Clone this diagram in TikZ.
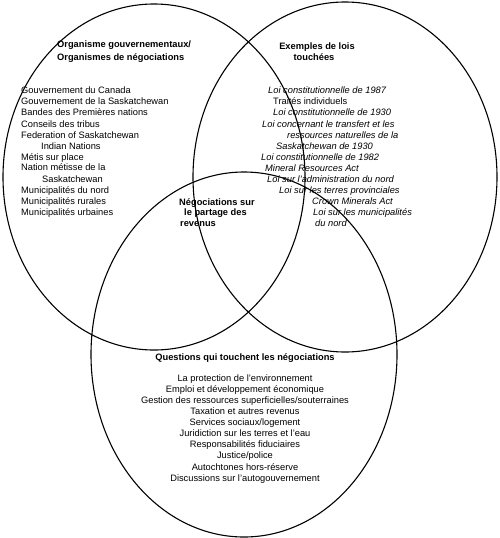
\documentclass[tikz,border=0pt]{standalone}
\usepackage{fontspec}
\setmainfont{Liberation Sans}
\begin{document}
\begin{tikzpicture}[x=1pt,y=-1pt,
  ring/.style={draw=black,line width=1.1pt},
  txt/.style={inner sep=0pt,font=\fontsize{9.3}{11}\selectfont,anchor=base west},
  head/.style={txt,font=\fontsize{9.3}{11}\selectfont\bfseries},
  ital/.style={txt,font=\fontsize{9.3}{11}\selectfont\itshape},
  ctr/.style={txt,anchor=base}]
\useasboundingbox[fill=white] (0,0) rectangle (500,538);
% ellipses
\draw[ring] (154,177) ellipse [x radius=151, y radius=173];
\draw[ring] (345,177) ellipse [x radius=152, y radius=175];
\draw[ring] (244,354.5) ellipse [x radius=153, y radius=182.5];
% left circle
\node[head] (lh1) at (57,47.5) {Organisme gouvernementaux/};
\node[head] (lh2) at (57,60.5) {Organismes de négociations};
\node[txt] (l1) at (21,93.5) {Gouvernement du Canada};
\node[txt] (l2) at (21,104.5) {Gouvernement de la Saskatchewan};
\node[txt] (l3) at (21,115.5) {Bandes des Premières nations};
\node[txt] (l4) at (21,127.5) {Conseils des tribus};
\node[txt] (l5) at (21,138.5) {Federation of Saskatchewan};
\node[txt] (l6) at (41,149.5) {Indian Nations};
\node[txt] (l7) at (21,160.5) {Métis sur place};
\node[txt] (l8) at (21,170.5) {Nation métisse de la};
\node[txt] (l9) at (42,182.5) {Saskatchewan};
\node[txt] (l10) at (21,193.5) {Municipalités du nord};
\node[txt] (l11) at (21,204.5) {Municipalités rurales};
\node[txt] (l12) at (21,215.5) {Municipalités urbaines};
% right circle
\node[head,anchor=base] (rh1) at (317,49.5) {Exemples de lois};
\node[head,anchor=base] (rh2) at (314,60.5) {touchées};
\node[ital] (r1) at (268,93.5) {Loi constitutionnelle de 1987};
\node[txt] (r2) at (273,104.5) {Traités individuels};
\node[ital] (r3) at (273,115.5) {Loi constitutionnelle de 1930};
\node[ital] (r4) at (262,127.5) {Loi concernant le transfert et les};
\node[ital] (r5) at (287,138.5) {ressources naturelles de la};
\node[ital] (r6) at (276,149.5) {Saskatchewan de 1930};
\node[ital] (r7) at (261,160.5) {Loi constitutionnelle de 1982};
\node[ital] (r8) at (265,171.5) {Mineral Resources Act};
\node[ital] (r9) at (267,182.5) {Loi sur l’administration du nord};
\node[ital] (r10) at (279,193.5) {Loi sur les terres provinciales};
\node[ital] (r11) at (312,204.5) {Crown Minerals Act};
\node[ital] (r12) at (313,215.5) {Loi sur les municipalités};
\node[ital] (r13) at (315,226.5) {du nord};
% centre
\node[head] (c1) at (179,205.5) {Négociations sur};
\node[head] (c2) at (184,215.5) {le partage des};
\node[head] (c3) at (180,226.5) {revenus};
% bottom circle
\node[head,anchor=base] (bh) at (245,360.5) {Questions qui touchent les négociations};
\node[ctr] (b1) at (245,381.5) {La protection de l’environnement};
\node[ctr] (b2) at (245,392.5) {Emploi et développement économique};
\node[ctr] (b3) at (245,403.5) {Gestion des ressources superficielles/souterraines};
\node[ctr] (b4) at (245,414.5) {Taxation et autres revenus};
\node[ctr] (b5) at (245,425.5) {Services sociaux/logement};
\node[ctr] (b6) at (245,436.5) {Juridiction sur les terres et l’eau};
\node[ctr] (b7) at (245,447.5) {Responsabilités fiduciaires};
\node[ctr] (b8) at (245,458.5) {Justice/police};
\node[ctr] (b9) at (245,470.5) {Autochtones hors-réserve};
\node[ctr] (b10) at (245,481.5) {Discussions sur l’autogouvernement};
\end{tikzpicture}
\end{document}
